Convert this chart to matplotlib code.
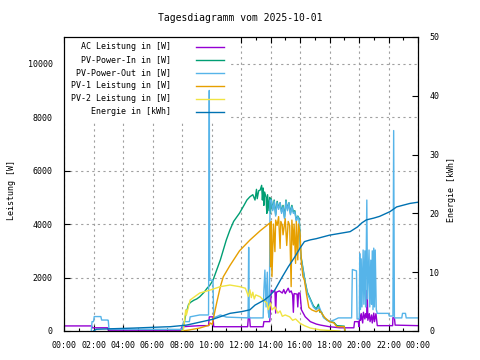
import matplotlib
matplotlib.use("Agg")
import matplotlib.pyplot as plt
from matplotlib.patches import Rectangle

plt.rcParams['font.family'] = ['DejaVu Sans Mono']
plt.rcParams['font.size'] = 6

ac_power = [(0, 190), (1.88, 190), (1.92, 120), (2.95, 120), (3.0, 30), (7.9, 30), (8.0, 160),
            (9.2, 200), (9.8, 200), (9.85, 530), (10.1, 530), (10.15, 160), (12.45, 160), (12.5, 520),
            (12.58, 520), (12.63, 160), (13.5, 160), (13.55, 350), (13.95, 350), (14.05, 1530),
            (14.2, 1470), (14.3, 1500), (14.35, 670), (14.4, 1450), (14.6, 1500), (14.8, 1420),
            (14.9, 1550), (15.0, 1400), (15.2, 1600), (15.3, 1450), (15.4, 1500), (15.5, 1350),
            (15.55, 700), (15.6, 1400), (15.8, 1380), (15.85, 900), (15.9, 1420), (16.0, 1420),
            (16.1, 790), (16.35, 535), (16.7, 350), (17.1, 260), (17.4, 220), (18.0, 160), (18.7, 120),
            (19.65, 120), (19.7, 350), (19.95, 350), (20.0, 160), (20.05, 600), (20.1, 400), (20.15, 650),
            (20.25, 300), (20.3, 700), (20.4, 450), (20.45, 650), (20.52, 500), (20.56, 1530), (20.6, 400),
            (20.7, 650), (20.75, 350), (20.85, 600), (20.9, 300), (21.0, 670), (21.05, 350), (21.15, 650),
            (21.24, 200), (22.28, 200), (22.3, 500), (22.4, 500), (22.45, 220), (24.0, 200)]

pv_in = [(8.0, 0), (8.1, 160), (8.25, 600), (8.45, 1000), (8.6, 1080), (8.8, 1150), (9.0, 1200),
         (9.2, 1280), (9.5, 1450), (9.7, 1600), (9.9, 1720), (10.1, 1900), (10.35, 2280), (10.6, 2660),
         (10.8, 3030), (11.0, 3400), (11.25, 3780), (11.5, 4100), (11.9, 4410), (12.2, 4700), (12.4, 4900),
         (12.6, 5020), (12.8, 5100), (12.95, 4900), (13.05, 5300), (13.1, 4950), (13.2, 5250), (13.3, 5270),
         (13.4, 5450), (13.45, 4900), (13.5, 5350), (13.55, 4700), (13.6, 5200), (13.7, 5000), (13.75, 4400),
         (13.8, 5100), (13.9, 4500), (13.95, 5000), (14.0, 4400), (14.05, 4950), (14.15, 4550), (14.25, 4900),
         (14.35, 4350), (14.45, 4850), (14.55, 4600), (14.65, 4800), (14.75, 4450), (14.85, 4700),
         (14.95, 4250), (15.05, 4900), (15.15, 4550), (15.25, 4800), (15.35, 4400), (15.45, 4700),
         (15.55, 4450), (15.65, 4500), (15.75, 4150), (15.85, 4300), (15.95, 4200), (16.05, 2850),
         (16.2, 2350), (16.35, 1850), (16.5, 1450), (16.7, 1200), (16.9, 950), (17.1, 820), (17.25, 1000),
         (17.35, 700), (17.45, 720), (17.6, 520), (17.8, 420), (18.0, 360), (18.3, 320), (18.5, 200),
         (19.0, 180), (19.05, 0)]

pv_out = [(1.85, 0), (1.9, 350), (2.0, 350), (2.05, 540), (2.5, 540), (2.55, 410), (2.95, 410), (3.0, 400),
          (3.05, 70), (7.9, 60), (8.0, 60), (8.1, 350), (8.5, 350), (8.55, 530), (9.2, 600), (9.8, 600),
          (9.85, 9000), (9.88, 1900), (10.1, 1900), (10.15, 490), (10.6, 600), (11.0, 520), (12.48, 490),
          (12.52, 3130), (12.56, 490), (13.5, 490), (13.55, 1500), (13.62, 2280), (13.7, 900), (13.78, 2200),
          (13.85, 700), (13.92, 490), (13.97, 4900), (14.05, 4900), (14.15, 4500), (14.25, 4860),
          (14.35, 4300), (14.45, 4800), (14.55, 4550), (14.65, 4790), (14.75, 4400), (14.85, 4650),
          (14.95, 4200), (15.05, 4860), (15.15, 4500), (15.25, 4790), (15.35, 4350), (15.45, 4650),
          (15.55, 4400), (15.65, 4460), (15.75, 4100), (15.85, 4280), (15.95, 4150), (16.05, 2800),
          (16.2, 2300), (16.35, 1800), (16.5, 1400), (16.7, 1160), (16.9, 900), (17.1, 790), (17.3, 910),
          (17.45, 700), (17.6, 500), (17.8, 420), (18.0, 350), (18.3, 410), (18.6, 490), (19.5, 490),
          (19.55, 2300), (19.83, 2250), (19.87, 450), (20.02, 450), (20.05, 2900), (20.1, 800), (20.15, 2700),
          (20.2, 900), (20.28, 3030), (20.33, 1000), (20.4, 3000), (20.45, 900), (20.53, 4900), (20.58, 1200),
          (20.68, 3030), (20.73, 900), (20.8, 2650), (20.85, 1000), (20.9, 3000), (20.95, 800), (21.0, 3100),
          (21.05, 900), (21.1, 3030), (21.17, 800), (21.24, 660), (22.0, 660), (22.05, 560), (22.3, 560),
          (22.35, 7500), (22.4, 490), (22.9, 490), (22.95, 660), (23.15, 660), (23.2, 490), (24.0, 490)]

pv1 = [(8.0, 0), (8.5, 40), (9.2, 110), (9.85, 220), (9.9, 300), (10.05, 250), (10.15, 530), (10.35, 1050),
       (10.6, 1660), (10.8, 2030), (11.25, 2450), (11.9, 3000), (12.6, 3400), (13.3, 3750), (13.75, 3950),
       (13.95, 4040), (14.0, 2400), (14.05, 4100), (14.1, 2030), (14.2, 4000), (14.3, 2970), (14.35, 4150),
       (14.45, 3950), (14.55, 4280), (14.65, 3090), (14.7, 4100), (14.8, 3950), (14.85, 3600), (15.0, 4200),
       (15.1, 3200), (15.2, 4100), (15.3, 3950), (15.4, 1660), (15.45, 4150), (15.55, 3220), (15.6, 4000),
       (15.7, 2530), (15.75, 4100), (15.85, 2660), (15.9, 4000), (16.0, 3660), (16.1, 2530), (16.2, 2030),
       (16.3, 1900), (16.45, 1350), (16.6, 880), (16.8, 790), (17.1, 720), (17.3, 790), (17.5, 640),
       (17.7, 490), (18.0, 350), (18.3, 300), (18.5, 160), (19.0, 160), (19.05, 0)]

pv2 = [(8.0, 0), (8.1, 40), (8.25, 790), (8.3, 600), (8.55, 1160), (9.2, 1420), (9.9, 1530), (10.6, 1660),
       (11.25, 1720), (11.9, 1660), (12.3, 1600), (12.5, 1300), (12.6, 1540), (12.7, 1250), (12.8, 1450),
       (12.9, 1200), (13.0, 1350), (13.3, 1280), (13.5, 1160), (13.75, 1050), (13.85, 800), (14.0, 1050),
       (14.1, 790), (14.3, 900), (14.5, 670), (14.65, 750), (14.8, 550), (15.0, 600), (15.3, 530),
       (15.5, 400), (15.7, 450), (16.0, 290), (16.3, 200), (16.7, 110), (17.0, 80), (17.4, 40), (18.0, 20),
       (18.7, 0)]

energie = [(2.0, 0), (2.2, 0.3), (4.75, 0.5), (6.8, 0.7), (7.2, 0.73), (8.3, 1.0), (9.2, 1.5), (10.1, 2.0),
           (11.25, 3.0), (12.05, 3.3), (12.6, 3.6), (12.95, 4.4), (13.6, 5.3), (13.95, 6.0), (14.3, 7.0),
           (14.75, 9.0), (15.2, 10.9), (15.65, 12.6), (16.0, 14.1), (16.3, 15.2), (16.7, 15.5), (17.1, 15.7),
           (17.4, 15.9), (18.0, 16.3), (19.4, 16.9), (19.9, 17.7), (20.2, 18.4), (20.5, 18.9), (21.0, 19.2),
           (21.4, 19.5), (22.1, 20.3), (22.55, 21.1), (23.0, 21.4), (23.46, 21.7), (24.0, 21.9)]

labels = ['AC Leistung in [W]', 'PV-Power-In in [W]', 'PV-Power-Out in [W]',
          'PV-1 Leistung in [W]', 'PV-2 Leistung in [W]', 'Energie in [kWh]']
colors = ['#9400d3', '#009e73', '#56b4e9', '#e69f00', '#f0e442', '#0072b2']
hour_ticks = list(range(0, 25, 2))
hour_labels = ['%02d:00' % (h % 24) for h in hour_ticks]

fig = plt.figure(figsize=(4.8, 3.6), dpi=100)
ax = fig.add_axes([64 / 480, 1 - 331 / 360, 354 / 480, 294 / 360])
ax2 = ax.twinx()

ax.set_xlim(0, 24)
ax.set_ylim(0, 11000)
ax2.set_ylim(0, 50)

ax.set_axisbelow(True)
ax.grid(True, color='#a0a0a0', linestyle=(0, (2, 3)), linewidth=0.8)

# weisser Hintergrund der Legende (verdeckt das Gitter)
ax.add_patch(Rectangle((0, 0.715), 0.47, 0.285, transform=ax.transAxes,
                       facecolor='white', edgecolor='none', zorder=1))

for series, c in zip([ac_power, pv_in, pv_out, pv1, pv2], colors[:5]):
    t, v = zip(*series)
    ax.plot(t, v, color=c, linewidth=1.0, zorder=2)
t, v = zip(*energie)
ax2.plot(t, v, color=colors[5], linewidth=1.0, zorder=2)

ax.set_xticks(hour_ticks)
ax.set_xticklabels(hour_labels)
ax.set_xticks(range(0, 25), minor=True)
ax.set_yticks(range(0, 11000, 2000))
ax2.set_yticks(range(0, 51, 10))

ax.tick_params(axis='both', which='major', direction='in', length=4, pad=8, width=0.8)
ax.tick_params(axis='x', which='minor', direction='in', length=2, width=0.8)
ax.tick_params(axis='x', pad=7)
ax.tick_params(axis='x', which='both', top=True)
ax2.tick_params(axis='y', direction='in', length=4, pad=8, width=0.8)

for a in (ax, ax2):
    for s in a.spines.values():
        s.set_linewidth(0.8)

# Legende wie bei gnuplot: Text rechtsbuendig, Linie rechts daneben
for i, (lab, c) in enumerate(zip(labels, colors)):
    y = 0.966 - i * 0.0442
    ax2.text(0.302, y, lab, transform=ax2.transAxes, ha='right', va='center', zorder=5)
    ax2.plot([0.373, 0.452], [y, y], transform=ax2.transAxes, color=c, linewidth=1.0, zorder=5)

fig.text(0.5, 1 - 18 / 360, 'Tagesdiagramm vom 2025-10-01', ha='center', va='center', fontsize=7)
fig.text(12 / 480, 1 - 190 / 360, 'Leistung [W]', rotation=90, ha='center', va='center')
fig.text(452 / 480, 1 - 190 / 360, 'Energie [kWh]', rotation=90, ha='center', va='center')

fig.savefig('out.png', dpi=100)
